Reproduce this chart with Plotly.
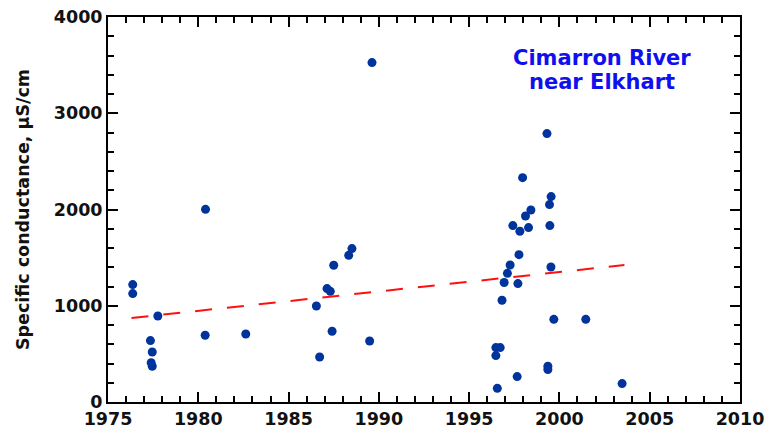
import plotly.graph_objects as go

# Sample dates (decimal year) and specific conductance (µS/cm)
years = [1976.37, 1976.37, 1977.76, 1977.35, 1977.45, 1977.39, 1977.45, 1980.38, 1980.40, 1982.63,
         1986.54, 1986.72, 1987.13, 1987.31, 1987.50, 1987.41, 1988.33, 1988.51, 1989.62, 1989.49,
         1999.31, 1997.96, 1999.54, 1999.45, 1998.42, 1998.12, 1997.42, 1997.81, 1998.29, 1999.47,
         1997.76, 1997.27, 1999.53, 1997.12, 1996.94, 1997.70, 1996.82, 1999.69, 2001.46, 1996.48,
         1996.72, 1996.48, 1999.36, 1999.36, 1997.66, 1996.56, 2003.47]
conductance = [1220, 1126, 894, 638, 519, 409, 371, 693, 2002, 707,
               997, 468, 1178, 1150, 1421, 735, 1524, 1594, 3526, 634,
               2789, 2331, 2134, 2051, 1995, 1932, 1833, 1774, 1812, 1833,
               1531, 1423, 1403, 1337, 1241, 1230, 1057, 859, 859, 565,
               565, 482, 371, 337, 264, 142, 191]

trend_years = [1976.3, 2003.6]
trend_values = [873, 1423]

x_ticks = [1975, 1980, 1985, 1990, 1995, 2000, 2005, 2010]
y_ticks = [0, 1000, 2000, 3000, 4000]

FONT = "DejaVu Sans"

fig = go.Figure()
fig.add_trace(go.Scatter(x=trend_years, y=trend_values, mode="lines",
                         line=dict(color="#ff1010", width=2, dash="17px,15px"),
                         hoverinfo="skip", showlegend=False))
fig.add_trace(go.Scatter(x=years, y=conductance, mode="markers",
                         marker=dict(color="#00349c", size=9, line=dict(width=0)),
                         showlegend=False))

axis_common = dict(showgrid=False, zeroline=False, showline=True, linecolor="black",
                   linewidth=2, mirror="ticks", ticks="inside", tickcolor="black",
                   tickwidth=2, ticklen=10, automargin=False,
                   tickfont=dict(family=FONT, size=17.5, color="#111111", weight="bold"))

fig.update_xaxes(range=[1975, 2010], tickvals=x_ticks, ticktext=[str(v) for v in x_ticks],
                 minor=dict(dtick=1, tick0=1975, ticks="inside", ticklen=6, tickwidth=2,
                            tickcolor="black", showgrid=False),
                 **axis_common)
fig.update_yaxes(range=[0, 4000], tickvals=y_ticks, ticktext=[str(v) for v in y_ticks],
                 minor=dict(dtick=200, tick0=0, ticks="inside", ticklen=6, tickwidth=2,
                            tickcolor="black", showgrid=False),
                 **axis_common)

ann_font = dict(family=FONT, size=21, color="#1010ee", weight="bold")
fig.add_annotation(text="Cimarron River", xref="paper", yref="paper",
                   x=(602 - 107.5) / 632.5, y=(401.7 - 58) / 385,
                   xanchor="center", yanchor="middle", showarrow=False, font=ann_font)
fig.add_annotation(text="near Elkhart", xref="paper", yref="paper",
                   x=(602 - 107.5) / 632.5, y=(401.7 - 82) / 385,
                   xanchor="center", yanchor="middle", showarrow=False, font=ann_font)
fig.add_annotation(text="Specific conductance, µS/cm", xref="paper", yref="paper",
                   x=(22 - 107.5) / 632.5, y=0.5, textangle=-90,
                   xanchor="center", yanchor="middle", showarrow=False,
                   font=dict(family=FONT, size=17.5, color="#111111", weight="bold"))

fig.update_layout(width=767, height=432,
                  margin=dict(l=107.5, r=27, t=16.7, b=30.3, autoexpand=False),
                  plot_bgcolor="white", paper_bgcolor="white")

# remove the page's default body margin so the 767x432 figure fills the window exactly
fig.write_html("out.html", config={"displayModeBar": False},
               post_script="document.body.style.margin='0';document.body.style.overflow='hidden';")
